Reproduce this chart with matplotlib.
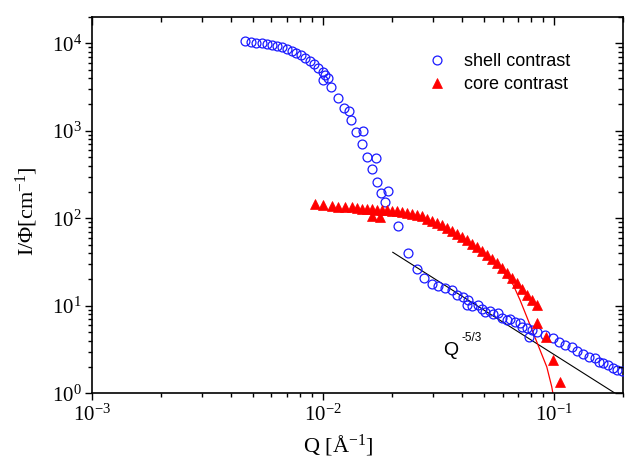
import matplotlib
matplotlib.use("Agg")
import matplotlib.pyplot as plt
import matplotlib.ticker as mticker

# ---- data ----
shell_q = [0.00461, 0.00487, 0.00514, 0.00544, 0.00572, 0.00601, 0.00632, 0.00665, 0.00698, 0.00735,
           0.00766, 0.00804, 0.00838, 0.00881, 0.00916, 0.00957, 0.0100, 0.01023, 0.01057, 0.01006,
           0.01083, 0.01161, 0.0124, 0.0130, 0.01322, 0.01398, 0.0150, 0.01475, 0.0155, 0.01706,
           0.0163, 0.01713, 0.01784, 0.01923, 0.01866, 0.02125, 0.02338, 0.02553, 0.02754, 0.02965,
           0.03167, 0.03385, 0.03617, 0.03802, 0.0406, 0.04268, 0.04201, 0.04416, 0.04716, 0.04878,
           0.05043, 0.05297, 0.05476, 0.05757, 0.05954, 0.0626, 0.0647, 0.068, 0.0715, 0.0727,
           0.0764, 0.0784, 0.0803, 0.0849, 0.0917, 0.0996, 0.1057, 0.1119, 0.1197, 0.1265,
           0.1344, 0.1426, 0.151, 0.1575, 0.164, 0.1723, 0.1812, 0.1885, 0.1969]
shell_I = [10700, 10430, 10160, 10000, 9820, 9570, 9310, 9000, 8610, 8170,
           7810, 7350, 6840, 6330, 5760, 5180, 4730, 4340, 3980, 3810,
           3140, 2350, 1810, 1700, 1330, 961, 1000, 703, 506, 485,
           371, 263, 193, 207, 152, 82, 39.8, 26.1, 20.6, 17.8,
           16.7, 15.8, 15.0, 13.3, 12.7, 11.6, 10.2, 9.95, 10.2, 9.12,
           8.56, 8.79, 8.0, 8.34, 7.2, 6.88, 7.01, 6.58, 6.31, 5.77,
           5.53, 4.43, 5.29, 5.06, 4.64, 4.25, 3.89, 3.56, 3.35, 3.07,
           2.81, 2.62, 2.51, 2.30, 2.24, 2.10, 1.93, 1.85, 1.80]

core_q = [0.00926, 0.01006, 0.01094, 0.01168, 0.01249, 0.01335, 0.01403, 0.01475, 0.0155, 0.0163,
          0.01713, 0.0180, 0.01892, 0.0199, 0.0209, 0.02198, 0.0231, 0.02428, 0.02553, 0.02683,
          0.0282, 0.02965, 0.03116, 0.03275, 0.03443, 0.03617, 0.03802, 0.03997, 0.04201, 0.04416,
          0.04642, 0.04878, 0.05128, 0.0539, 0.05666, 0.05954, 0.0626, 0.0658, 0.06918, 0.0727,
          0.0764, 0.0803, 0.0844, 0.0163, 0.0177, 0.0849, 0.0923, 0.0996, 0.1065]
core_I = [146, 142, 139, 136, 135, 133, 131, 129, 129, 128,
          126, 124, 123, 121, 120, 118, 115, 112, 109, 105,
          99.5, 94.4, 88.3, 82.8, 77.4, 71.6, 66.2, 61.1, 56.5, 51.5,
          47.0, 42.3, 38.1, 34.3, 30.8, 27.0, 23.7, 20.8, 18.2, 15.6,
          13.3, 11.6, 10.2, 106, 104, 6.41, 4.36, 2.40, 1.36]

fit_q = [0.04, 0.05, 0.06, 0.0668, 0.0715, 0.0764, 0.0816, 0.0873, 0.0933, 0.098, 0.0995]
fit_I = [59, 40, 25.5, 17.3, 11.6, 7.5, 4.85, 3.1, 2.0, 1.19, 0.95]

power_q = [0.0201, 0.1845]
power_I = [40.9, 1.0]

# ---- styling ----
plt.rcParams['mathtext.fontset'] = 'custom'
plt.rcParams['mathtext.rm'] = 'Liberation Serif'
plt.rcParams['mathtext.it'] = 'Liberation Serif:italic'
plt.rcParams['font.family'] = ['Liberation Serif', 'DejaVu Serif']

fig = plt.figure(figsize=(6.29, 4.57), dpi=100)
W, H = 629, 457
ax_l, ax_r, ax_t, ax_b = 91.7, 623.3, 17.0, 393.3
rect = [ax_l / W, 1 - ax_b / H, (ax_r - ax_l) / W, (ax_b - ax_t) / H]
ax = fig.add_axes(rect)

ax.plot(power_q, power_I, color='black', lw=0.8, zorder=2)
ax.plot(fit_q, fit_I, color='red', lw=0.9, zorder=2)
ax.plot(shell_q, shell_I, ls='none', marker='o', ms=6.4, mfc='none', mec='#1a1aff',
        mew=0.9, label='shell contrast', zorder=3)
ax.plot(core_q, core_I, ls='none', marker='^', ms=7.2, mfc='red', mec='red', mew=0.5,
        label='core contrast', zorder=4)

def setup_log(a):
    a.set_xscale('log')
    a.set_yscale('log')
    a.set_xlim(1e-3, 0.2)
    a.set_ylim(1, 2e4)
    a.xaxis.set_major_locator(mticker.LogLocator(base=10, numticks=10))
    a.xaxis.set_minor_locator(mticker.LogLocator(base=10, subs=range(2, 10), numticks=20))
    a.yaxis.set_major_locator(mticker.LogLocator(base=10, numticks=10))
    a.yaxis.set_minor_locator(mticker.LogLocator(base=10, subs=range(2, 10), numticks=20))
    a.xaxis.set_minor_formatter(mticker.NullFormatter())
    a.yaxis.set_minor_formatter(mticker.NullFormatter())

setup_log(ax)
for s in ax.spines.values():
    s.set_linewidth(1.2)

ax.tick_params(which='both', top=False, right=False, width=1.0)
ax.tick_params(axis='x', which='major', direction='out', length=5, labelsize=15, pad=3)
ax.tick_params(axis='x', which='minor', direction='out', length=3)
ax.tick_params(axis='y', which='major', direction='out', length=5, labelsize=15, pad=2)
ax.tick_params(axis='y', which='minor', direction='out', length=3)

# overlay axes for inward top/right ticks
ax2 = fig.add_axes(rect, frameon=False)
setup_log(ax2)
ax2.patch.set_visible(False)
ax2.tick_params(which='both', bottom=False, left=False, top=True, right=True,
                labelbottom=False, labelleft=False, labeltop=False, labelright=False,
                direction='in', width=1.0)
ax2.tick_params(which='major', length=6)
ax2.tick_params(which='minor', length=3.5)

fig.text(338 / W, 1 - 452 / H, r'Q [$\mathrm{\AA}^{-1}$]', ha='center', va='baseline', fontsize=16)
fig.text(27 / W, 1 - 211 / H, r'I/$\Phi$[cm$^{-1}$]', ha='center', va='center',
         fontsize=16, rotation=90)

# Q^-5/3 annotation
fig.text(443 / W, 1 - 355 / H, 'Q', fontsize=14,
         family='Liberation Sans', ha='left', va='baseline')
fig.text(462 / W, 1 - 341 / H, '-5/3', fontsize=8.5,
         family='Liberation Sans', ha='left', va='baseline')

leg = ax.legend(loc='upper left',
                bbox_to_anchor=((428 - ax_l) / (ax_r - ax_l), 1 - (53 - ax_t) / (ax_b - ax_t)),
                frameon=False, borderpad=0, borderaxespad=0, handlelength=1.0,
                handletextpad=1.0, labelspacing=0.33,
                prop={'family': 'Liberation Sans', 'size': 13})

fig.savefig('out.png', dpi=100)
